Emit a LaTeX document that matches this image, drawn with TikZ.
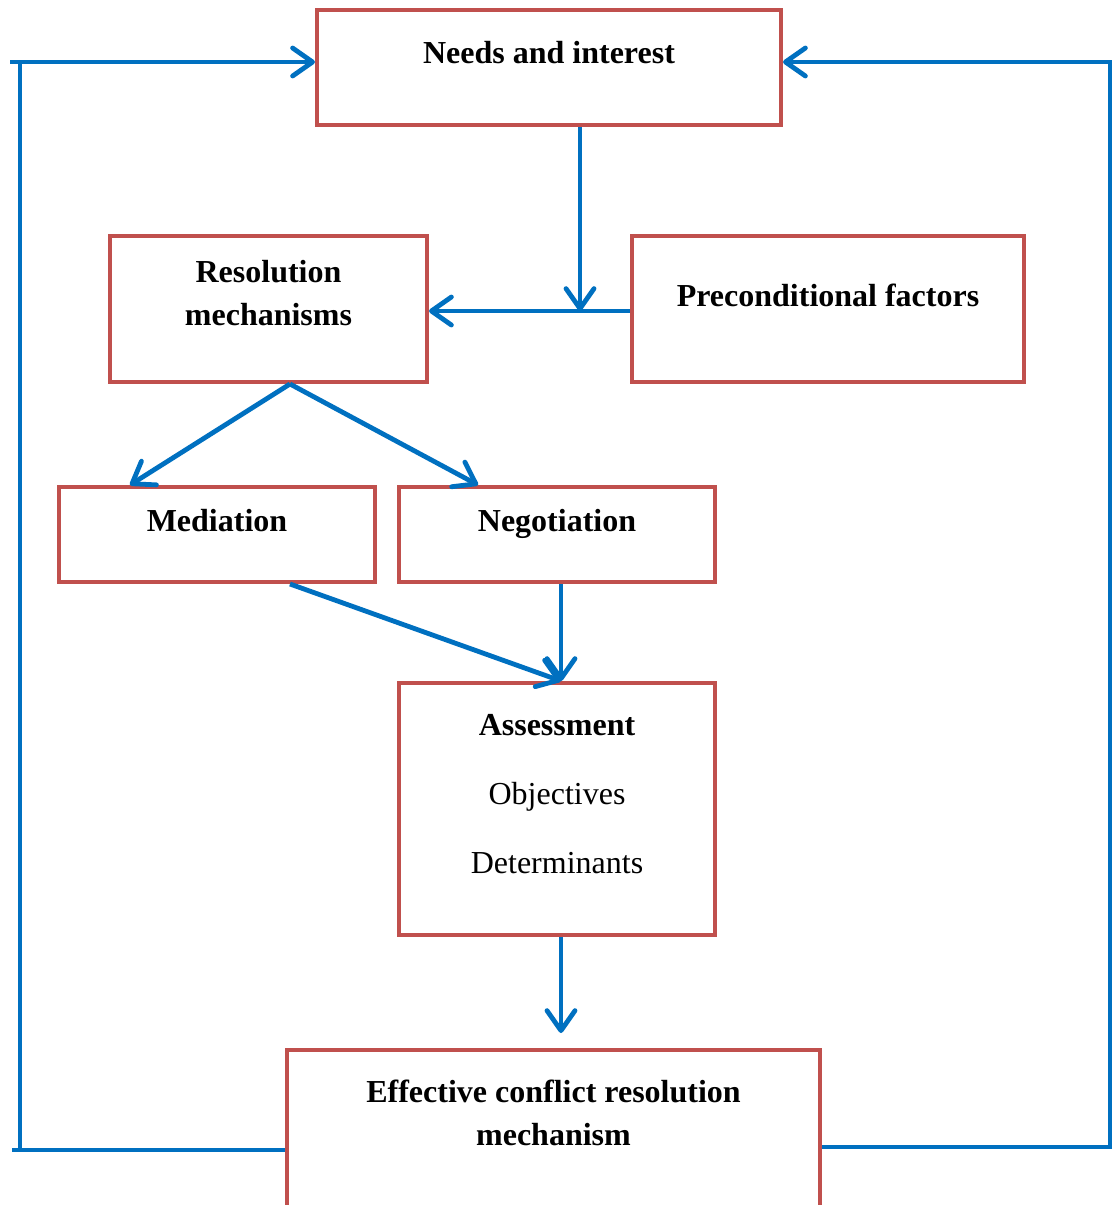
\documentclass[tikz,border=0pt]{standalone}
\usepackage{fontspec}
\setmainfont{Liberation Serif}
\usepackage{tikz}
\usetikzlibrary{arrows.meta,positioning,calc}
\definecolor{flowblue}{HTML}{0070C0}
\definecolor{boxred}{HTML}{C0504D}
\begin{document}
\begin{tikzpicture}[x=0.5pt,y=-0.5pt,
  box/.style={draw=boxred,line width=2pt,inner sep=0pt},
  lbl/.style={font=\fontsize{16}{21.5}\selectfont\bfseries,align=center,inner sep=0pt},
  txt/.style={font=\fontsize{16}{21.5}\selectfont,inner sep=0pt},
  flow/.style={draw=flowblue,line width=2.4pt},
  >={Straight Barb[length=10pt,width=14pt,round]}]
\useasboundingbox (0,0) rectangle (1113,1205);
% boxes
\node[box,minimum width=232pt,minimum height=57.5pt] (needs) at (549,67.5) {};
\node[box,minimum width=158.5pt,minimum height=73pt] (resol) at (268.5,309) {};
\node[box,minimum width=196pt,minimum height=73pt] (precon) at (828,309) {};
\node[box,minimum width=158pt,minimum height=47.5pt] (media) at (217,534.5) {};
\node[box,minimum width=158pt,minimum height=47.5pt] (nego) at (557,534.5) {};
\node[box,minimum width=158pt,minimum height=126pt] (assess) at (557,809) {};
\node[box,minimum width=266.5pt,minimum height=82.5pt] (eff) at (553.5,1132.5) {};
% texts
\node[lbl,anchor=base] (needs-t) at (549,63) {Needs and interest};
\node[lbl] (resol-t) at (268.5,293) {Resolution\\mechanisms};
\node[lbl,anchor=base] (precon-t) at (828,306) {Preconditional factors};
\node[lbl,anchor=base] (media-t) at (217,531) {Mediation};
\node[lbl,anchor=base] (nego-t) at (557,531) {Negotiation};
\node[lbl,anchor=base] (assess-t) at (557,735) {Assessment};
\node[txt,anchor=base] (obj-t) at (557,804) {Objectives};
\node[txt,anchor=base] (det-t) at (557,873) {Determinants};
\node[lbl] (eff-t) at (553.5,1113) {Effective conflict resolution\\mechanism};
% connectors
\coordinate (jn) at (580,311);
\coordinate (lbot) at (12,1150);
\coordinate (ltop) at (10,62);
\coordinate (rc) at (1110,62);
\draw[flow,->] (needs.south -| jn) -- (jn);
\draw[flow,->] (precon.west |- jn) -- (resol.east |- jn);
\draw[flow,->] ([xshift=10.75pt]resol.south) -- ([xshift=-43.5pt]media.north);
\draw[flow,->] ([xshift=10.75pt]resol.south) -- ([xshift=-39.5pt]nego.north);
\draw[flow,->] ([xshift=36.5pt]media.south) -- ([xshift=2pt]assess.north);
\draw[flow,->] ([xshift=2pt]nego.south) -- ([xshift=2pt]assess.north);
\draw[flow,->,shorten >=7.5pt] ([xshift=2pt]assess.south) -- ([xshift=2pt]assess.south |- eff.north);
\draw[flow] ([yshift=-8.75pt]eff.west) -- (lbot);
\draw[flow] ([xshift=4pt]lbot) -- ([xshift=5pt]ltop);
\draw[flow,->] (ltop) -- ([yshift=2.75pt]needs.west);
\draw[flow,->] ([yshift=-7.25pt]eff.east) -| (rc) -- ([yshift=2.75pt]needs.east);
\end{tikzpicture}
\end{document}
